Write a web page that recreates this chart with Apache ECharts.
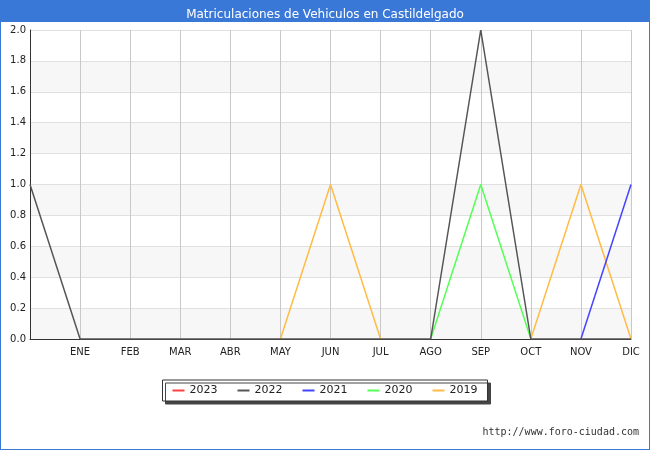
<!DOCTYPE html>
<html>
<head>
<meta charset="utf-8">
<script src="https://cdn.jsdelivr.net/npm/echarts@6/dist/echarts.min.js"></script>
<style>
  body { margin: 0; }
  #chart { width: 648px; height: 448px; border: 1px solid #3a78d8; }
</style>
</head>
<body>
<div id="chart"></div>
<script>
var months = ['', 'ENE', 'FEB', 'MAR', 'ABR', 'MAY', 'JUN', 'JUL', 'AGO', 'SEP', 'OCT', 'NOV', 'DIC'];
var yTicks = [0, 0.2, 0.4, 0.6, 0.8, 1.0, 1.2, 1.4, 1.6, 1.8, 2.0];
var s2023 = [];
var s2022 = [1, 0, 0, 0, 0, 0, 0, 0, 0, 2, 0, 0, 0];
var s2021 = [null, null, null, null, null, null, null, null, null, null, null, 0, 1];
var s2020 = [null, null, null, null, null, null, null, null, 0, 1, 0, null, null];
var s2019 = [null, null, null, null, null, 0, 1, 0, null, null, 0, 1, 0];

var names = ['2023', '2022', '2021', '2020', '2019'];
var colors = ['#ff4040', '#555555', '#4444ff', '#55ff55', '#ffbb44'];
var data = [s2023, s2022, s2021, s2020, s2019];

var series = names.map(function (n, i) {
    return {
        name: n,
        type: 'line',
        data: data[i],
        symbol: 'none',
        lineStyle: { width: 1.5, color: colors[i] },
        itemStyle: { color: colors[i] },
        z: 10 - i
    };
});

var chart = echarts.init(document.getElementById('chart'));
chart.setOption({
    animation: false,
    title: {
        text: 'Matriculaciones de Vehiculos en Castildelgado',
        left: 'center',
        top: 3,
        textStyle: { color: '#fff', fontSize: 12, fontWeight: 'normal', fontFamily: 'DejaVu Sans' }
    },
    graphic: [
        { type: 'rect', left: 0, top: 0, shape: { width: 650, height: 21 }, style: { fill: '#3a78d8' }, z: -1 },
        { type: 'text', right: 10, bottom: 12, style: { text: 'http://www.foro-ciudad.com', fontSize: 10, fill: '#333', fontFamily: 'DejaVu Sans Mono' } }
    ],
    grid: { left: 29, right: 18, top: 29, bottom: 110 },
    legend: {
        data: names,
        top: 379,
        left: 'center',
        itemWidth: 12,
        itemHeight: 2,
        itemGap: 20,
        icon: 'rect',
        borderColor: '#333',
        borderWidth: 1,
        padding: [5, 10],
        shadowColor: '#444',
        shadowOffsetX: 3,
        shadowOffsetY: 3,
        shadowBlur: 0,
        backgroundColor: '#fff',
        textStyle: { fontSize: 11, color: '#222', fontFamily: 'DejaVu Sans' }
    },
    xAxis: {
        type: 'category',
        data: months,
        boundaryGap: false,
        axisLine: { lineStyle: { color: '#333' } },
        axisTick: { show: false },
        splitLine: { show: true, lineStyle: { color: '#c8c8c8' } },
        axisLabel: { color: '#222', fontSize: 10, fontFamily: 'DejaVu Sans', interval: 0 }
    },
    yAxis: {
        type: 'value',
        min: 0,
        max: 2,
        interval: 0.2,
        axisLine: { show: true, lineStyle: { color: '#333' } },
        axisTick: { show: false },
        splitLine: { lineStyle: { color: '#e0e0e0' } },
        splitArea: { show: true, areaStyle: { color: ['#f7f7f7', '#ffffff'] } },
        axisLabel: { color: '#222', fontSize: 10, fontFamily: 'DejaVu Sans', margin: 4,
            formatter: function (v) { return v.toFixed(1); } }
    },
    series: series
});
</script>
</body>
</html>
